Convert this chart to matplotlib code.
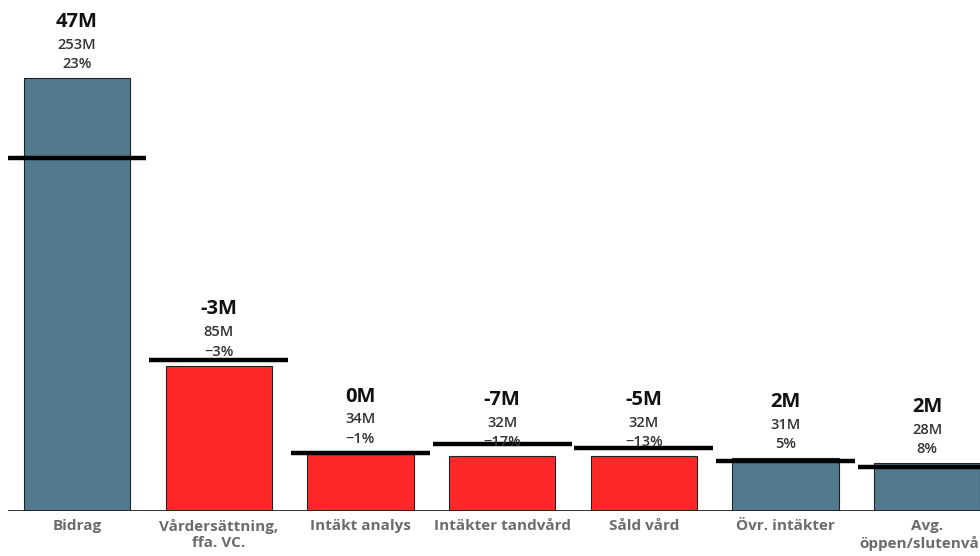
import numpy as np
import matplotlib.pyplot as plt

plt.rcParams['font.family'] = ['Open Sans', 'DejaVu Sans']

categories = ['Bidrag', 'Vårdersättning,\nffa. VC.', 'Intäkt analys', 'Intäkter tandvård',
              'Såld vård', 'Övr. intäkter', 'Avg.\nöppen/slutenvård']
values = [253, 85, 34, 32, 32, 31, 28]          # utfall, MSEK
diffs = [47, -3, 0, -7, -5, 2, 2]               # förändring mot föregående, MSEK
diff_labels = ['47M', '-3M', '0M', '-7M', '-5M', '2M', '2M']
pct_labels = ['23%', '\u22123%', '\u22121%', '\u221217%', '\u221213%', '5%', '8%']
is_positive = [True, False, False, False, False, True, True]

blue = '#527a8f'
red = '#ff2828'

fig = plt.figure(figsize=(9.8, 5.56), dpi=100)
ax = fig.add_axes([8 / 980, 45 / 556, 1 - 8 / 980, 511 / 556])

x = np.arange(len(categories))
colors = [blue if p else red for p in is_positive]
ax.bar(x, values, width=0.75, color=colors, edgecolor='#222222', linewidth=0.8, zorder=2)

# referenslinje = föregående period
prev = [v - d for v, d in zip(values, diffs)]
for xi, pv in zip(x, prev):
    ax.plot([xi - 0.49, xi + 0.49], [pv, pv], color='black', lw=3.2, zorder=3,
            solid_capstyle='butt')

for xi, v, dl, pl in zip(x, values, diff_labels, pct_labels):
    ax.annotate(dl, (xi, v), xytext=(0, 40.5), textcoords='offset points',
                ha='center', va='center', fontsize=14.5, fontweight='bold', color='#111111')
    ax.annotate(f'{v}M', (xi, v), xytext=(0, 24), textcoords='offset points',
                ha='center', va='center', fontsize=10.5, fontweight='semibold', color='#333333')
    ax.annotate(pl, (xi, v), xytext=(0, 10), textcoords='offset points',
                ha='center', va='center', fontsize=10.5, fontweight='semibold', color='#333333')

ax.set_xlim(-0.487, 6.372)
ax.set_ylim(0, 298.6)
ax.axhline(0, color='#222222', lw=2, zorder=4)

ax.set_xticks(x)
ax.set_xticklabels(categories, fontsize=11, fontweight='bold', color='#6b6b6b',
                   linespacing=1.25)
ax.tick_params(axis='x', length=0, pad=5.5)
ax.set_yticks([])
for s in ax.spines.values():
    s.set_visible(False)

fig.savefig('out.png', dpi=100)
